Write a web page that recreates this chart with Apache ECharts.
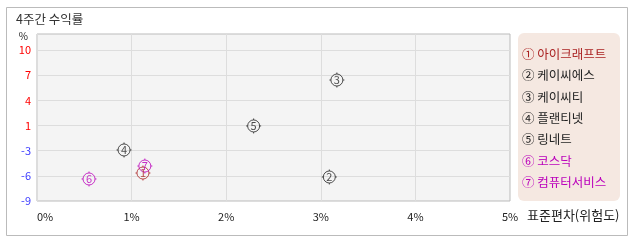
<!DOCTYPE html>
<html><head><meta charset="utf-8">
<script src="https://cdn.jsdelivr.net/npm/echarts@6/dist/echarts.min.js"></script>
<style>html,body{margin:0;padding:0;background:#fff}#c{width:638px;height:242px}</style>
</head><body><div id="c"></div>
<script>
const names = ['아이크래프트','케이씨에스','케이씨티','플랜티넷','링네트','코스닥','컴퓨터서비스'];
const marks = ['①','②','③','④','⑤','⑥','⑦'];
const risk = [1.12, 3.09, 3.17, 0.92, 2.29, 0.55, 1.14];
const ret = [-5.48, -5.98, 6.22, -2.58, 0.44, -6.23, -4.60];
const colors = ['#aa2222','#222222','#222222','#222222','#222222','#bb00bb','#bb00bb'];
const yTicks = [-9, -5.8333, -2.6667, 0.5, 3.6667, 6.8333, 10];

const FONT = "'Noto Sans CJK KR', sans-serif";
const sym = 'path://M1.5 7.5 A6 6 0 1 1 13.5 7.5 A6 6 0 1 1 1.5 7.5 Z M7.5 0 L7.5 1.5 M7.5 13.5 L7.5 15 M0 7.5 L1.5 7.5 M13.5 7.5 L15 7.5';
const chart = echarts.init(document.getElementById('c'), null, {renderer:'canvas'});
const series = names.map((n,i)=>({
  name: marks[i]+n,
  type: 'scatter',
  data: [[risk[i], ret[i]]],
  symbol: sym,
  symbolSize: 15,
  itemStyle: {color: 'transparent', borderColor: colors[i], borderWidth: 1},
  label: {show: true, position: 'inside', formatter: String(i+1), fontSize: 11, color: colors[i], fontFamily: FONT},
  emphasis: {disabled: true}
}));
const legendTexts = names.map((n,i)=>({
  type: 'text', left: 522, top: 48 + i*21.33,
  style: {text: marks[i]+' '+n, fill: colors[i], font: "12.5px 'Noto Sans CJK KR', sans-serif"}
}));
chart.setOption({
  animation: false,
  textStyle: {fontFamily: FONT},
  title: {text: '4주간 수익률', left: 16, top: 13, padding: 0, textStyle: {fontSize: 12.5, fontWeight: 'normal', color: '#333', fontFamily: FONT}},
  graphic: [
    {type: 'rect', shape: {x: 6.5, y: 7.5, width: 621, height: 228}, style: {fill: 'none', stroke: '#bbbbbb', lineWidth: 1}, z: -10},
    {type: 'rect', shape: {x: 518, y: 33, width: 102, height: 168, r: 6}, style: {fill: '#f5e8e1'}, z: -5},
    {type: 'text', left: 527, top: 209, style: {text: '표준편차(위험도)', fill: '#222', font: "13px 'Noto Sans CJK KR', sans-serif"}}
  ].concat(legendTexts),
  grid: {left: 37, right: 128, top: 34, bottom: 41, show: true, backgroundColor: '#f4f4f4', borderColor: '#bbbbbb', borderWidth: 1},
  xAxis: {
    type: 'value', min: 0, max: 5, interval: 1,
    axisLine: {show: false}, axisTick: {show: false},
    axisLabel: {fontSize: 11, color: '#222', margin: 10, formatter: v => v + '%', alignMinLabel: 'left', fontFamily: FONT},
    splitLine: {show: true, lineStyle: {color: '#dddddd'}}
  },
  yAxis: {
    type: 'value', min: -9, max: 12.01,
    name: '%', nameLocation: 'end', nameGap: -2,
    nameTextStyle: {fontSize: 10, color: '#222', align: 'right', verticalAlign: 'middle', padding: [0,9,0,0], fontFamily: FONT},
    axisLine: {show: false},
    axisTick: {show: false, customValues: yTicks},
    axisLabel: {fontSize: 11, margin: 6, customValues: yTicks, formatter: v => String(Math.round(v)),
      color: v => (v > 0 ? '#ff0000' : '#3a3aff'), fontFamily: FONT},
    splitLine: {show: true, lineStyle: {color: '#dddddd'}}
  },
  series: series
});
</script></body></html>
